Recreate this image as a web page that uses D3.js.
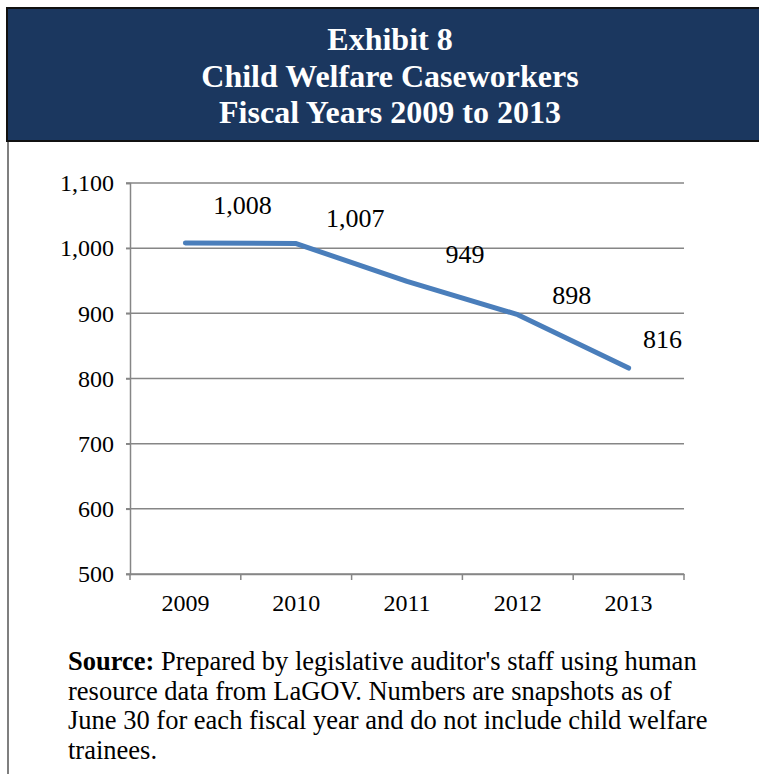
<!DOCTYPE html>
<html><head><meta charset="utf-8">
<script src="https://cdn.jsdelivr.net/npm/d3@7"></script>
<style>body{margin:0;background:#fff;}svg{display:block;}</style>
</head><body>
<script>
const years = ["2009","2010","2011","2012","2013"];
const caseworkers = [1008, 1007, 949, 898, 816];
const yTicks = [500, 600, 700, 800, 900, 1000, 1100];
const titleLines = ["Exhibit 8", "Child Welfare Caseworkers", "Fiscal Years 2009 to 2013"];
const sourceLines = [
  "Prepared by legislative auditor's staff using human",
  "resource data from LaGOV. Numbers are snapshots as of",
  "June 30 for each fiscal year and do not include child welfare",
  "trainees."
];

const W = 759, H = 774;
const svg = d3.select("body").append("svg").attr("width", W).attr("height", H);
const serif = "'Liberation Serif','Times New Roman',serif";

// outer frame left line
svg.append("line").attr("x1", 8).attr("x2", 8).attr("y1", 140).attr("y2", H)
  .attr("stroke", "#7f7f7f").attr("stroke-width", 2);

// header
svg.append("rect").attr("x", 7).attr("y", 8).attr("width", W + 10).attr("height", 133)
  .attr("fill", "#1b375f").attr("stroke", "#111").attr("stroke-width", 2);
svg.selectAll("text.title").data(titleLines).enter().append("text")
  .attr("class", "title")
  .attr("x", 390).attr("y", (d, i) => 50 + i * 36.5)
  .attr("text-anchor", "middle").attr("fill", "#fff")
  .attr("font-family", serif).attr("font-weight", "bold").attr("font-size", 32)
  .text(d => d);

// chart
const x0 = 130, x1 = 684, yTop = 183, yBot = 574;
const x = d3.scaleBand().domain(years).range([x0, x1]);
const y = d3.scaleLinear().domain([500, 1100]).range([yBot, yTop]);

// gridlines
svg.append("g").selectAll("line").data(yTicks).enter().append("line")
  .attr("x1", x0 - 4).attr("x2", x1)
  .attr("y1", d => y(d)).attr("y2", d => y(d))
  .attr("stroke", "#868686").attr("stroke-width", 1.5);

// y axis
const yAxis = d3.axisLeft(y).tickValues(yTicks).tickSize(4).tickPadding(12)
  .tickFormat(d3.format(","));
const gy = svg.append("g").attr("transform", `translate(${x0},0)`).call(yAxis);
gy.select(".domain").attr("stroke", "#868686").attr("stroke-width", 1.5);
gy.selectAll(".tick line").attr("stroke", "#868686").attr("stroke-width", 1.5);
gy.selectAll("text").attr("font-family", serif).attr("font-size", 24).attr("fill", "#000");

// x axis
const xAxis = d3.axisBottom(x).tickSize(0).tickPadding(20);
const gx = svg.append("g").attr("transform", `translate(0,${yBot})`).call(xAxis);
gx.select(".domain").attr("stroke", "#868686").attr("stroke-width", 1.5);
gx.selectAll("text").attr("font-family", serif).attr("font-size", 24).attr("fill", "#000");
// boundary tick marks
const bounds = years.map(d => x(d)).concat([x1]);
svg.append("g").selectAll("line").data(bounds).enter().append("line")
  .attr("x1", d => d).attr("x2", d => d).attr("y1", yBot).attr("y2", yBot + 6)
  .attr("stroke", "#868686").attr("stroke-width", 1.5);

// line
const cx = d => x(d) + x.bandwidth() / 2;
const line = d3.line().x((d, i) => cx(years[i])).y(d => y(d));
svg.append("path").datum(caseworkers).attr("d", line)
  .attr("fill", "none").attr("stroke", "#4a7ebb").attr("stroke-width", 5)
  .attr("stroke-linecap", "round").attr("stroke-linejoin", "round");

// data labels (offsets relative to points)
const labelDx = [57, 59, 58, 54, 34];
const labelDy = [-29, -17, -18, -11, -20];
svg.append("g").selectAll("text").data(caseworkers).enter().append("text")
  .attr("x", (d, i) => cx(years[i]) + labelDx[i])
  .attr("y", (d, i) => y(d) + labelDy[i])
  .attr("text-anchor", "middle")
  .attr("font-family", serif).attr("font-size", 26).attr("fill", "#000")
  .text(d => d3.format(",")(d));

// source note
const src = svg.append("g");
sourceLines.forEach((t, i) => {
  const tx = src.append("text").attr("x", 68).attr("y", 670 + i * 29.5)
    .attr("font-family", serif).attr("font-size", 26.5).attr("fill", "#000");
  if (i === 0) {
    tx.append("tspan").attr("font-weight", "bold").text("Source: ");
  }
  tx.append("tspan").text(t);
});
</script>
</body></html>
